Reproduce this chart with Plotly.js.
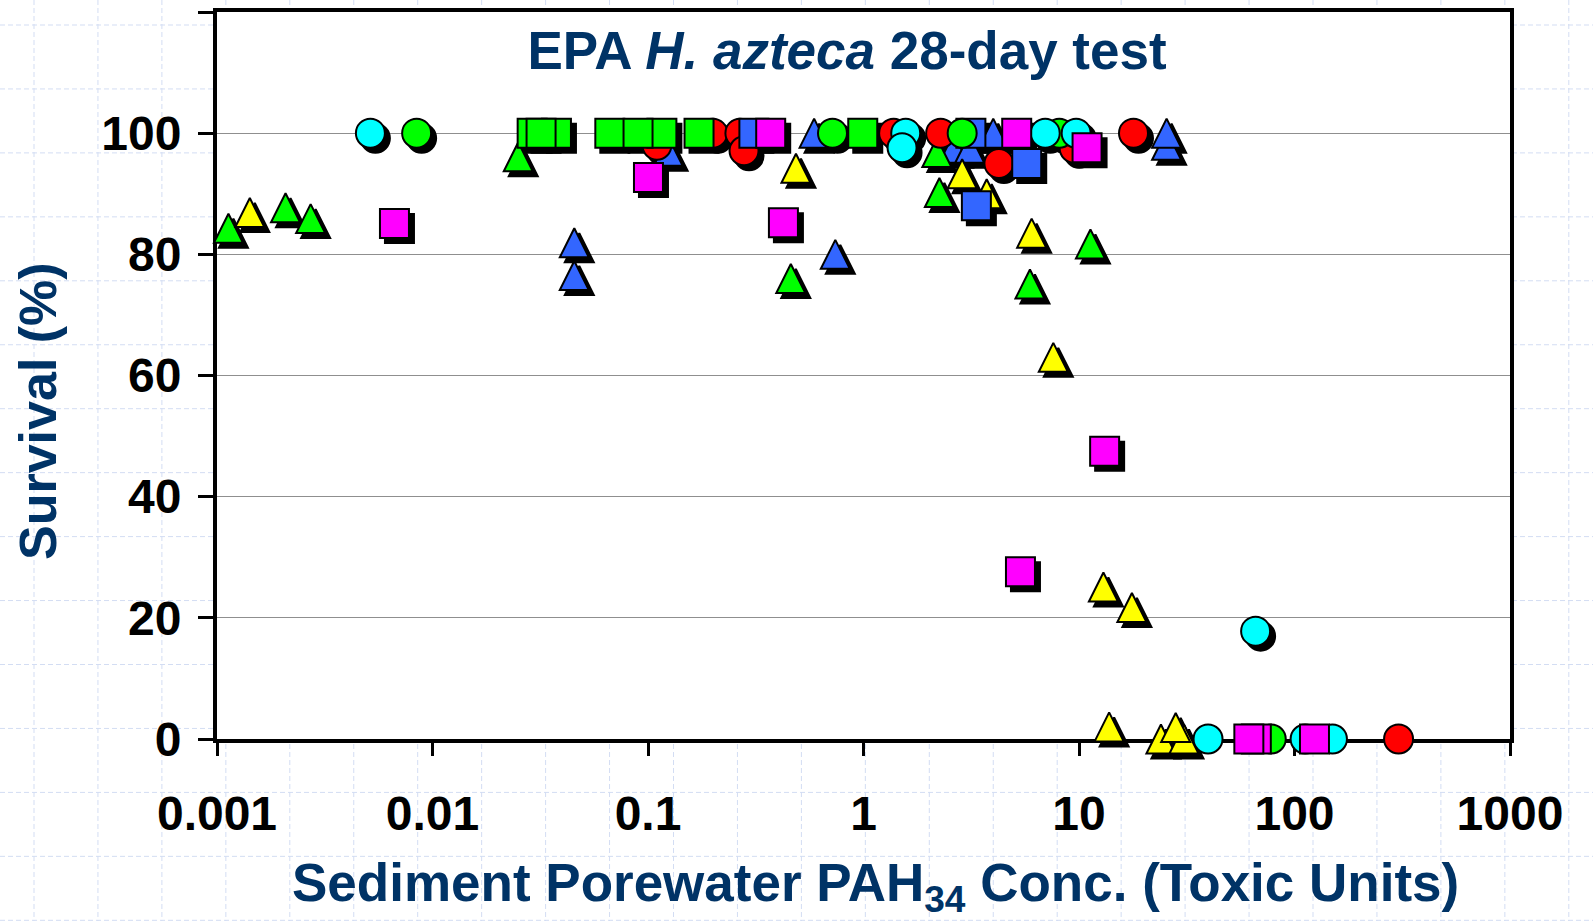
<!DOCTYPE html>
<html>
<head>
<meta charset="utf-8">
<script src="https://cdn.plot.ly/plotly-3.0.1.min.js"></script>
<style>html,body{margin:0;padding:0;background:#fff;}#chart{width:1593px;height:921px;}</style>
</head>
<body>
<div id="chart"></div>
<script>
// ---------------- data ----------------
const xTickVals = [0.001, 0.01, 0.1, 1, 10, 100, 1000];
const xTickText = ['0.001', '0.01', '0.1', '1', '10', '100', '1000'];
const yTickVals = [0, 20, 40, 60, 80, 100];
const yTickText = ['0', '20', '40', '60', '80', '100'];
const yTopTick = [120];

const redCirclesX = [0.11, 0.2, 0.267, 0.279, 1.38, 2.28, 4.25, 9.5, 17.9, 304];
const redCirclesY = [98, 100, 100, 97.1, 100, 100, 95, 97.5, 100, 0];

const blueSquaresX = [0.31, 3.15, 3.34, 5.72];
const blueSquaresY = [100, 100, 88, 95];

const greenCirclesX = [0.00844, 0.718, 2.87, 8.1, 78];
const greenCirclesY = [100, 100, 100, 100, 0];

const cyanCirclesX = [0.00515, 1.57, 1.51, 6.97, 9.7, 66, 39.7, 112, 150];
const cyanCirclesY = [100, 100, 97.6, 100, 100, 17.8, 0, 0, 0];

const greenSquaresX = [0.029, 0.0376, 0.0319, 0.0665, 0.116, 0.0899, 0.1725, 0.992];
const greenSquaresY = [100, 100, 100, 100, 100, 100, 100, 100];

const magentaSquaresX = [0.00666, 0.1005, 0.371, 0.425, 5.14, 10.9, 13.15, 5.35, 66.5, 61.4, 123.8];
const magentaSquaresY = [85.1, 92.7, 100, 85.2, 100, 97.6, 47.5, 27.6, 0, 0, 0];

const blueTrianglesX = [0.0455, 0.0455, 0.124, 0.59, 0.74, 2.62, 3.11, 4.0, 25.5, 25.5];
const blueTrianglesY = [81.9, 76.5, 97, 100, 80, 97.5, 97.5, 100, 98, 100];

const greenTrianglesX = [0.00113, 0.00208, 0.00272, 0.025, 0.46, 2.19, 2.25, 5.92, 11.3];
const greenTrianglesY = [84.3, 87.7, 85.9, 96.1, 76.0, 96.8, 90.2, 75.1, 81.7];

const yellowTrianglesX = [0.00142, 0.486, 2.87, 3.73, 6.03, 7.6, 12.98, 17.6, 13.8, 24.0, 30.7, 28.1];
const yellowTrianglesY = [86.9, 94.2, 93.3, 90.0, 83.5, 63, 25.1, 21.7, 2, 0, 0, 1.9];

// ---------------- layout constants ----------------
const W = 1593, H = 921;
const M = {l: 217, r: 83, t: 12, b: 182};
const plotW = W - M.l - M.r;
const plotH = H - M.t - M.b;
const pxPerDecade = plotW / 6;
const pxPerUnit = plotH / 120;
const markerSize = 29;
const shadowDX = 5, shadowDY = 5;
const ex = shadowDX / pxPerDecade;
const ey = shadowDY / pxPerUnit;
const et = (markerSize / 2) / pxPerUnit;   // lift so triangle box is centred on value

const FONT = 'Liberation Sans, Arial, Helvetica, sans-serif';
const NAVY = '#003366';

const RED = '#ff0000', GREEN = '#00ff00', CYAN = '#00ffff', BLUE = '#3366ff', MAGENTA = '#ff00ff', YELLOW = '#ffff00';

function trace(x, y, symbol, color, xa, ya) {
  return {
    type: 'scatter', mode: 'markers', x: x, y: y, xaxis: xa, yaxis: ya,
    cliponaxis: false, hoverinfo: 'skip', showlegend: false,
    marker: {symbol: symbol, size: markerSize, color: color, line: {color: '#000', width: 2}}
  };
}

const roundSeries = [
  [redCirclesX, redCirclesY, 'circle', RED],
  [blueSquaresX, blueSquaresY, 'square', BLUE],
  [greenCirclesX, greenCirclesY, 'circle', GREEN],
  [cyanCirclesX, cyanCirclesY, 'circle', CYAN],
  [greenSquaresX, greenSquaresY, 'square', GREEN],
  [magentaSquaresX, magentaSquaresY, 'square', MAGENTA]
];
const triSeries = [
  [blueTrianglesX, blueTrianglesY, 'arrow-up', BLUE],
  [greenTrianglesX, greenTrianglesY, 'arrow-up', GREEN],
  [yellowTrianglesX, yellowTrianglesY, 'arrow-up', YELLOW]
];

const data = [];
roundSeries.forEach(s => data.push(trace(s[0], s[1], s[2], '#000', 'x', 'y')));
triSeries.forEach(s => data.push(trace(s[0], s[1], s[2], '#000', 'x2', 'y2')));
triSeries.forEach(s => data.push(trace(s[0], s[1], s[2], s[3], 'x3', 'y3')));
roundSeries.forEach(s => data.push(trace(s[0], s[1], s[2], s[3], 'x4', 'y4')));

// background dashed template grid (only visible outside the plot)
const shapes = [];
const gridStep = 63.95;
for (let px = 34; px < W; px += gridStep) {
  shapes.push({type: 'line', xref: 'paper', yref: 'paper', layer: 'below',
    x0: (px - M.l) / plotW, x1: (px - M.l) / plotW, y0: 1 + M.t / plotH, y1: -(M.b / plotH),
    line: {color: '#d3ddf3', width: 1, dash: '5px,3px'}});
}
for (let py = 25; py < H; py += gridStep) {
  shapes.push({type: 'line', xref: 'paper', yref: 'paper', layer: 'below',
    x0: -(M.l / plotW), x1: 1 + M.r / plotW, y0: 1 - (py - M.t) / plotH, y1: 1 - (py - M.t) / plotH,
    line: {color: '#d3ddf3', width: 1, dash: '5px,3px'}});
}
shapes.push({type: 'rect', xref: 'paper', yref: 'paper', layer: 'below',
  x0: 0, x1: 1, y0: 0, y1: 1, fillcolor: '#ffffff', line: {width: 0}});

const hidden = {visible: false, fixedrange: true};
const layout = {
  width: W, height: H,
  margin: M,
  paper_bgcolor: '#ffffff',
  plot_bgcolor: 'rgba(0,0,0,0)',
  showlegend: false,
  title: {
    text: 'EPA <i>H. azteca</i> 28-day test',
    font: {family: FONT, size: 53, color: NAVY, weight: 'bold'},
    xref: 'container', yref: 'container', x: 847 / W, y: 1 - 50 / H,
    xanchor: 'center', yanchor: 'middle'
  },
  xaxis: Object.assign({type: 'log', range: [-3 - ex, 3 - ex]}, hidden),
  yaxis: Object.assign({range: [ey, 120 + ey]}, hidden),
  xaxis2: Object.assign({type: 'log', range: [-3 - ex, 3 - ex], overlaying: 'x', anchor: 'y2'}, hidden),
  yaxis2: Object.assign({range: [ey - et, 120 + ey - et], overlaying: 'y', anchor: 'x2'}, hidden),
  xaxis3: Object.assign({type: 'log', range: [-3, 3], overlaying: 'x', anchor: 'y3'}, hidden),
  yaxis3: Object.assign({range: [-et, 120 - et], overlaying: 'y', anchor: 'x3'}, hidden),
  xaxis4: {
    type: 'log', range: [-3, 3], overlaying: 'x', anchor: 'y4', side: 'bottom',
    tickmode: 'array', tickvals: xTickVals, ticktext: xTickText,
    ticks: 'outside', ticklen: 13, tickwidth: 3, tickcolor: '#000',
    showline: true, linecolor: '#000', linewidth: 4, mirror: true,
    showgrid: false, zeroline: false, layer: 'below traces',
    tickfont: {family: FONT, size: 48, color: '#000', weight: 'bold'},
    ticklabelstandoff: 16, fixedrange: true
  },
  yaxis4: {
    range: [0, 120], overlaying: 'y', anchor: 'x4', side: 'left',
    tickmode: 'array', tickvals: yTickVals, ticktext: yTickText,
    ticks: 'outside', ticklen: 15, tickwidth: 3, tickcolor: '#000',
    minor: {tickmode: 'array', tickvals: yTopTick, ticks: 'outside', ticklen: 15, tickwidth: 3, tickcolor: '#000', showgrid: false},
    showline: true, linecolor: '#000', linewidth: 4, mirror: true,
    showgrid: true, gridcolor: '#8f8f8f', gridwidth: 1, zeroline: false, layer: 'below traces',
    tickfont: {family: FONT, size: 48, color: '#000', weight: 'bold'},
    ticklabelstandoff: 7, fixedrange: true
  },
  shapes: shapes,
  annotations: [
    {text: 'Survival (%)', textangle: -90, xref: 'paper', yref: 'paper',
     x: (38 - M.l) / plotW, y: 1 - (411 - M.t) / plotH, xanchor: 'center', yanchor: 'middle',
     showarrow: false, font: {family: FONT, size: 52, color: NAVY, weight: 'bold'}},
    {text: 'Sediment Porewater PAH<sub>34</sub> Conc. (Toxic Units)', xref: 'paper', yref: 'paper',
     x: (875 - M.l) / plotW, y: 1 - (886 - M.t) / plotH, xanchor: 'center', yanchor: 'middle',
     showarrow: false, font: {family: FONT, size: 53, color: NAVY, weight: 'bold'}}
  ]
};

Plotly.newPlot('chart', data, layout, {displayModeBar: false, staticPlot: true});
</script>
</body>
</html>
